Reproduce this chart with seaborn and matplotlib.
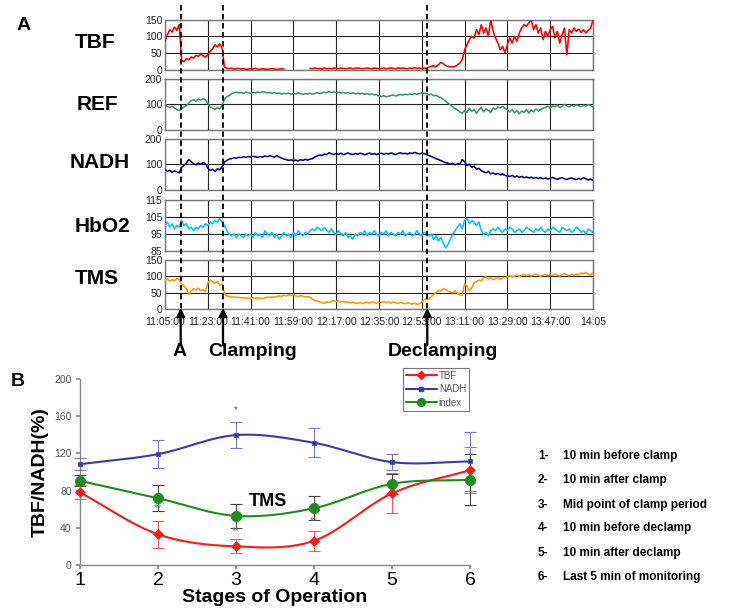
import numpy as np
import pandas as pd
import matplotlib
matplotlib.use("Agg")
import matplotlib.pyplot as plt
import matplotlib.transforms as mtransforms
from matplotlib.lines import Line2D
import seaborn as sns

# ── Panel A: traces, one value per minute from 11:05 ────────────────────────
TICK_LABELS = ["11:05:00", "11:23:00", "11:41:00", "11:59:00", "12:17:00",
               "12:35:00", "12:53:00", "13:11:00", "13:29:00", "13:47:00", "14:05"]

TBF = [85, 105, 120, 113, 128, 118, 136,
       28, 24, 33, 30, 38, 35, 43, 40, 46, 42, 38, 45,
       55, 62, 75, 68, 78, 65,
       8, 4, 3, 5, 2, 3, 4, 2, 3, 1, 2, 3, 2, 4, 2, 1, 3, 2, 1, 2, 3, 2, 1, 2, 3, 2,
       None, None, None, None, None, None, None, None, None, None,
       4, 3, 5, 3, 4, 2, 5, 3, 4, 3, 5, 4, 3, 5, 4, 3, 4, 5, 3, 4,
       5, 4, 3, 4, 5, 4, 3, 5, 4, 3, 4, 5, 3, 4, 5, 4, 3, 5, 4, 5,
       4, 3, 5, 4, 6, 4, 5, 3, 5, 4,
       8, 10, 12, 9, 15, 22, 18, 12, 10, 9, 8, 10, 14, 20,
       30, 60, 75, 90, 100, 95, 120, 105, 135, 110, 125, 100, 150, 115, 95, 80,
       60, 70, 50, 75, 95, 80, 100, 85, 110, 125, 135, 130, 140, 150, 120, 135,
       110, 125, 90, 115, 100, 120, 130, 95, 115, 80, 105, 125, 45, 120, 110, 125,
       115, 122, 112, 120, 110, 118, 125, 150]

REF = [97, 92, 88, 93, 85, 80, 76,
       82, 90, 95, 105,
       115, 118, 112, 120, 117, 122, 118,
       105, 90, 85, 80, 88, 82, 95,
       120, 130, 135, 142, 146, 148,
       145, 147, 143, 148, 146, 144, 147, 145, 149, 146, 150, 148, 145, 147, 144, 146, 143, 145, 141, 143,
       142, 144, 140, 143, 141, 145, 142, 139, 143, 141, 144, 140, 143, 146, 142, 145, 148, 146, 150, 147,
       149, 146, 148, 145, 147, 144, 146, 143, 145, 142, 144, 141, 143, 140, 142, 139, 141, 138, 137, 133,
       131, 134, 130, 132, 135, 137, 133, 136, 139, 137, 140, 138, 141, 139, 142, 140, 143, 145, 144,
       142, 138, 140, 134, 136, 130, 127, 120, 112, 105, 98, 90, 84, 78, 70, 65,
       75, 68, 85, 72, 80, 65, 78, 88, 70, 82, 76, 68, 85, 80, 90,
       86, 92, 84, 78, 70, 80, 66, 76, 62, 74, 68, 80, 65, 78, 70, 82, 74, 80, 85,
       88, 93, 85, 95, 90, 97, 88, 92, 100, 94, 90, 96, 92, 98, 94, 91, 96, 93, 99, 95, 91]

NADH = [78, 72, 76, 68, 74, 70, 66,
        88, 95, 105, 118, 110, 102, 98, 104, 100, 106, 102,
        85, 75, 80, 72, 82, 78, 90,
        108, 115, 120, 122, 125, 124, 127, 126, 129, 127, 130, 128, 131, 129, 127, 130,
        128, 132, 130, 133, 131, 127, 134, 128, 124, 120, 118, 115, 117, 114,
        116, 113, 118, 115, 119, 116, 120, 122, 128, 132, 136, 134, 140, 138, 145,
        141, 138, 142, 139, 143, 137, 141, 144, 140, 138, 142, 139, 143, 141, 137, 140,
        144, 139, 142, 138, 141, 143, 139, 142, 140, 144, 141, 138, 142, 145, 141, 143,
        140, 144, 142, 146, 143, 140, 144, 141, 138,
        134, 130, 126, 122, 118, 114, 110, 106, 104, 100, 103, 98, 102, 100,
        118, 110, 95, 100, 88, 92, 80, 84, 75,
        70, 66, 72, 62, 66, 60, 64, 58, 62, 56, 54,
        52, 56, 50, 54, 48, 52, 47, 50, 46, 49, 45, 48, 44, 47, 43, 46, 42, 45,
        48, 44, 41, 45, 47, 43, 40, 44, 46, 42, 40, 44, 41, 47, 43, 38, 42, 36]

HBO2 = [100, 102, 99, 101, 98, 100, 99,
        103, 100, 101, 98, 99, 97, 99, 98, 100, 99, 101, 100, 102, 101, 103, 102, 104, 102,
        100, 97, 95, 94, 95, 93, 95, 94, 93, 95,
        94, 95, 93, 96, 94, 95, 93, 97, 95, 94, 96, 93, 95, 92, 94, 96, 94, 95, 93, 96,
        94, 97, 95, 94, 96, 95, 97,
        98, 97, 99, 98, 97, 99, 97, 96, 98, 96, 95, 97, 95, 94, 96,
        93, 94, 92, 95, 94, 96,
        95, 97, 94, 96, 95, 97, 95, 94, 96, 95, 97, 94, 96, 95, 94, 96, 95, 97, 94, 95,
        96, 94, 95, 97, 95, 94, 96, 95,
        94, 95, 92, 94, 91, 93, 90, 87, 89,
        92, 95, 97, 99, 101, 98, 103, 104, 101,
        103, 102, 100, 102, 97, 95, 96, 94, 97,
        98, 97, 99, 97, 96, 98, 97, 99, 98, 96, 97, 98, 96, 97, 99, 98, 97, 96, 98, 97,
        99, 97, 96, 98, 97, 99, 98, 97, 96, 99, 98, 97, 98, 96, 97, 99, 98, 96, 97, 95,
        98, 97, 96]

TMS_A = [88, 92, 85, 90, 87, 93, 90,
         75, 70, 62, 45,
         55, 62, 58, 64, 56, 60, 54,
         80, 88, 84, 78, 85, 72, 76,
         48, 40, 38, 36, 37, 35, 36, 34, 35, 33, 34, 32, 35, 33, 34, 33,
         32, 34, 36, 35, 37, 36, 38, 40, 39, 42, 40, 43, 41, 44,
         40, 38, 41, 39, 37, 38, 36, 30, 26, 24, 22, 20, 17, 22, 19, 24,
         26, 23, 25, 21, 24, 20, 22, 19, 21, 18, 17, 20, 16, 19, 21, 18, 22, 20, 17, 21,
         19, 23, 20, 22, 18, 21, 19, 17, 20, 18, 16, 19, 17, 15, 18, 14, 16,
         22, 28, 33, 30, 38, 45, 50, 58, 55, 62, 60, 54, 52, 50, 56, 48, 44, 42,
         78, 70, 55, 65, 80, 84, 88, 86, 96, 98, 92, 95, 90, 93, 96, 91, 94, 97,
         99, 102, 98, 101, 104, 100, 103, 106, 102, 105, 101, 104, 107, 103, 100, 104,
         106, 102, 105, 103, 107, 104, 101, 105, 108, 104, 102, 106, 103, 107, 105, 110,
         108, 112, 106, 104, 112]

TRACE_NAMES = ["TBF", "REF", "NADH", "HbO2", "TMS"]
TRACE_COLORS = ["#ff0000", "#3a9a68", "#000080", "#00c8ff", "#ff9a00"]
TRACE_YTICKS = [[0, 50, 100, 150], [0, 100, 200], [0, 100, 200],
                [85, 95, 105, 115], [0, 50, 100, 150]]

EVENT_MIN = [6.6, 24.4, 110.3]
EVENT_LABELS = ["A", "Clamping", "Declamping"]

# ── Panel B: stage means ± error ───────────────────────────────────────────
STAGES = [1, 2, 3, 4, 5, 6]
TBF_B = [78, 33, 20, 26, 77, 102]
TBF_ERR = [7.5, 14.5, 7.5, 11, 21.5, 25]
NADH_B = [108.4, 119.2, 139.7, 131.4, 110.6, 111.3]
NADH_ERR = [6.5, 15, 14.4, 15.8, 8.8, 32]
INDEX_B = [90.5, 71.8, 52.8, 61, 87.3, 91.6]
INDEX_ERR = [6, 14, 12.5, 13, 11, 27.5]

STAR_X = [3, 2, 3, 4]
STAR_Y = [167, 61, 36, 47]
STAR_TEXT = ["*", "**", "**", "**"]

STAGE_NUMS = ["1-", "2-", "3-", "4-", "5-", "6-"]
STAGE_DESC = ["10 min before clamp", "10 min after clamp", "Mid point of clamp period",
              "10 min before declamp", "10 min after declamp", "Last 5 min of monitoring"]

sns.set_theme(style="white")
plt.rcParams["font.family"] = ["Liberation Sans", "DejaVu Sans"]
plt.rcParams.update({
    "text.color": "black",
    "axes.labelcolor": "black",
    "xtick.color": "black",
    "ytick.color": "black",
})

W, H = 730, 611


def fx(px):
    return px / W


def fy(py):
    return 1 - py / H


def smooth(xs, ys, n=40):
    # Catmull-Rom curve through the points (spreadsheet-style smoothed line)
    x = np.asarray(xs, float)
    y = np.asarray(ys, float)
    px = np.concatenate([[2 * x[0] - x[1]], x, [2 * x[-1] - x[-2]]])
    py = np.concatenate([[2 * y[0] - y[1]], y, [2 * y[-1] - y[-2]]])
    t = np.linspace(0, 1, n)
    ox, oy = [], []
    for i in range(1, len(px) - 2):
        for p, out in ((px, ox), (py, oy)):
            p0, p1, p2, p3 = p[i - 1], p[i], p[i + 1], p[i + 2]
            out.append(0.5 * (2 * p1 + (-p0 + p2) * t
                              + (2 * p0 - 5 * p1 + 4 * p2 - p3) * t ** 2
                              + (-p0 + 3 * p1 - 3 * p2 + p3) * t ** 3))
    return np.concatenate(ox), np.concatenate(oy)


def build():
    fig = plt.figure(figsize=(W / 100, H / 100), dpi=100, facecolor="white")

    series = [TBF, REF, NADH, HBO2, TMS_A]
    # (top, bottom) pixel edges of the five trace panels
    edges = [(19.7, 69.7), (79, 129.7), (138.7, 189.7), (199.7, 251.3), (260, 309)]
    label_xy = [(95, 43), (97, 104), (100, 162), (102, 227), (97, 278)]
    axes = []
    for i, (vals, (top, bot)) in enumerate(zip(series, edges)):
        ax = fig.add_axes([fx(165), fy(bot), fx(593) - fx(165), (bot - top) / H])
        v = np.array(vals, dtype=float)
        ax.plot(np.arange(len(v)), v, color=TRACE_COLORS[i], lw=1.15, zorder=3)
        yt = TRACE_YTICKS[i]
        ax.set_ylim(yt[0], yt[-1])
        ax.set_yticks(yt)
        ax.set_xlim(0, 180)
        ax.set_xticks(np.arange(0, 181, 18))
        ax.grid(True, color="#222222", lw=0.8)
        ax.tick_params(axis="y", labelsize=7.5, length=0, pad=2, colors="#222222")
        ax.tick_params(axis="x", length=0)
        for s in ax.spines.values():
            s.set_color("#777777")
            s.set_linewidth(1.0)
        if i < 4:
            ax.set_xticklabels([])
        else:
            ax.set_xticklabels(TICK_LABELS, fontsize=7.5, color="#222222")
            ax.tick_params(axis="x", pad=6)
        fig.text(fx(label_xy[i][0]), fy(label_xy[i][1]), TRACE_NAMES[i],
                 fontsize=15, fontweight="bold", ha="center", va="center")
        axes.append(ax)

    fig.text(fx(24), fy(26), "A", fontsize=14, fontweight="bold", ha="center", va="center")

    # event markers: dashed lines through all panels + arrows
    ax_tms = axes[-1]
    blend = mtransforms.blended_transform_factory(ax_tms.transData, fig.transFigure)
    text_x = [180, 253, 443]
    for t, lab, tx in zip(EVENT_MIN, EVENT_LABELS, text_x):
        fig.add_artist(Line2D([t, t], [fy(5), fy(309)], transform=blend,
                              color="black", lw=1.3, ls=(0, (3, 2)), zorder=5))
        ax_tms.annotate("", xy=(t, fy(308)), xycoords=blend,
                        xytext=(t, fy(345)), textcoords=blend,
                        arrowprops=dict(arrowstyle="-|>", color="black", lw=1.6,
                                        mutation_scale=12, shrinkA=0, shrinkB=0),
                        annotation_clip=False)
        fig.text(fx(tx), fy(351), lab, fontsize=14, fontweight="bold",
                 ha="center", va="center")

    # ── Panel B ──
    axb = fig.add_axes([fx(80), fy(565), fx(470) - fx(80), (565 - 379) / H])
    specs = [(TBF_B, TBF_ERR, "#ff1a1a", "#ff5a5a", "D", 5, "TBF"),
             (NADH_B, NADH_ERR, "#3a3aa8", "#7b7bcc", "s", 3.5, "NADH"),
             (INDEX_B, INDEX_ERR, "#1e8c1e", "#444444", "o", 7.5, "index")]
    handles = []
    for vals, err, col, ecol, mk, ms, name in specs:
        axb.errorbar(STAGES, vals, yerr=err, fmt="none", ecolor=ecol,
                     elinewidth=0.8, capsize=4, capthick=0.8, zorder=2, clip_on=False)
        sx, sy = smooth(STAGES, vals)
        axb.plot(sx, sy, color=col, lw=1.5, zorder=3)
        df = pd.DataFrame({"stage": STAGES, "value": vals})
        sns.scatterplot(data=df, x="stage", y="value", ax=axb, color=col,
                        marker=mk, s=ms ** 2, edgecolor=col, linewidth=0.5,
                        zorder=4, clip_on=False, legend=False)
        handles.append(Line2D([0], [0], color=col, lw=1.5, marker=mk,
                              markersize=ms * 0.75, label=name))

    axb.set_xlim(1, 6)
    axb.set_ylim(0, 200)
    axb.set_xticks(STAGES)
    axb.set_yticks([0, 40, 80, 120, 160, 200])
    axb.tick_params(axis="x", labelsize=14, length=3, color="#888888", pad=2)
    axb.tick_params(axis="y", labelsize=7.5, length=3, color="#888888",
                    labelcolor="#555555", pad=3, left=True)
    axb.tick_params(axis="x", bottom=True)
    sns.despine(ax=axb)
    for s in ("left", "bottom"):
        axb.spines[s].set_color("#888888")
        axb.spines[s].set_linewidth(1.0)
    axb.set_xlabel("Stages of Operation", fontsize=14, fontweight="bold", labelpad=0)
    axb.set_ylabel("TBF/NADH(%)", fontsize=14, fontweight="bold", labelpad=4)
    axb.set_facecolor("white")

    for x, y, s in zip(STAR_X, STAR_Y, STAR_TEXT):
        axb.text(x, y, s, fontsize=7, color="#666666", ha="center", va="center")
    axb.text(3.41, 68, "TMS", fontsize=13, fontweight="bold", ha="center", va="center")

    leg = axb.legend(handles=handles, loc="upper right", fontsize=7,
                     bbox_to_anchor=(fx(474), fy(363)), bbox_transform=fig.transFigure,
                     frameon=True, fancybox=False, handlelength=3.2,
                     borderpad=0.3, labelspacing=0.35, handletextpad=0.2)
    leg.get_frame().set_edgecolor("#555555")
    leg.get_frame().set_linewidth(0.8)
    for txt in leg.get_texts():
        txt.set_color("#555555")

    fig.text(fx(18), fy(382), "B", fontsize=14, fontweight="bold", ha="center", va="center")

    rows_y = [456, 480, 505, 528, 553, 577]
    for num, desc, ry in zip(STAGE_NUMS, STAGE_DESC, rows_y):
        fig.text(fx(538), fy(ry), num, fontsize=8.5, fontweight="bold", va="center")
        fig.text(fx(563), fy(ry), desc, fontsize=8.5, fontweight="bold", va="center")

    fig.savefig("out.png", dpi=100, facecolor="white")
    plt.close(fig)


if __name__ == "__main__":
    build()
